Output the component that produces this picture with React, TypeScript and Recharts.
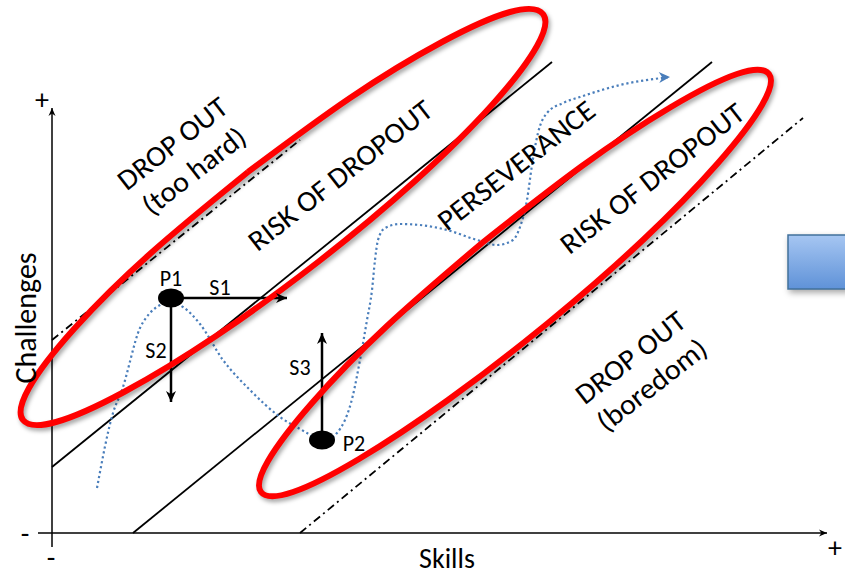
import React from "react";
import { ComposedChart, Line, ReferenceArea, Scatter, XAxis, YAxis } from "recharts";

// coordinates: skills (x) and challenges (y), origin where the two axes cross
const skillsAxis = [
  { x: -14, y: 0 },
  { x: 775, y: 0 },
];
const challengesAxis = [
  { x: 0, y: -14 },
  { x: 0, y: 425 },
];

const upperSolid = [
  { x: 0, y: 66 },
  { x: 500, y: 471 },
];
const lowerSolid = [
  { x: 81, y: 0 },
  { x: 660, y: 471 },
];
const upperDashDot = [
  { x: 0, y: 193 },
  { x: 248, y: 393 },
];
const lowerDashDot = [
  { x: 248, y: 0 },
  { x: 751, y: 415 },
];

const riskTooHard = [
  { x: 196, y: 361 }, { x: 99, y: 280 }, { x: 22, y: 204 }, { x: -23, y: 145 },
  { x: -29, y: 113 }, { x: 4, y: 111 }, { x: 72, y: 141 }, { x: 164, y: 197 },
  { x: 266, y: 271 }, { x: 363, y: 352 }, { x: 440, y: 428 }, { x: 485, y: 487 },
  { x: 491, y: 519 }, { x: 458, y: 521 }, { x: 390, y: 491 }, { x: 298, y: 435 },
  { x: 196, y: 361 },
];
const riskBoredom = [
  { x: 430, y: 290 }, { x: 335, y: 207 }, { x: 260, y: 130 }, { x: 216, y: 72 },
  { x: 209, y: 41 }, { x: 241, y: 41 }, { x: 307, y: 74 }, { x: 396, y: 133 },
  { x: 496, y: 210 }, { x: 591, y: 293 }, { x: 666, y: 370 }, { x: 710, y: 428 },
  { x: 717, y: 459 }, { x: 685, y: 459 }, { x: 619, y: 426 }, { x: 530, y: 367 },
  { x: 430, y: 290 },
];

const learnerPath = [
  { x: 45, y: 45 }, { x: 61, y: 120 }, { x: 70, y: 143 }, { x: 88, y: 205 },
  { x: 98, y: 220 }, { x: 108, y: 228 }, { x: 119, y: 231 }, { x: 131, y: 226 },
  { x: 148, y: 209 }, { x: 171, y: 173 }, { x: 198, y: 143 }, { x: 228, y: 116 },
  { x: 255, y: 100 }, { x: 270, y: 91 }, { x: 285, y: 100 }, { x: 301, y: 138 },
  { x: 308, y: 173 }, { x: 315, y: 213 }, { x: 320, y: 243 }, { x: 323, y: 273 },
  { x: 326, y: 293 }, { x: 333, y: 305 }, { x: 348, y: 309 }, { x: 368, y: 308 },
  { x: 395, y: 303 }, { x: 425, y: 293 }, { x: 445, y: 288 }, { x: 461, y: 293 },
  { x: 468, y: 306 }, { x: 475, y: 333 }, { x: 480, y: 368 }, { x: 486, y: 400 },
  { x: 495, y: 420 }, { x: 511, y: 430 }, { x: 528, y: 436 }, { x: 568, y: 448 },
  { x: 618, y: 456 },
];

const p1 = [{ x: 119, y: 235 }];
const p2 = [{ x: 270, y: 93 }];
const s1 = [
  { x: 119, y: 235 },
  { x: 235, y: 235 },
];
const s2 = [
  { x: 119, y: 235 },
  { x: 119, y: 131 },
];
const s3 = [
  { x: 270, y: 93 },
  { x: 270, y: 200 },
];

const regionLabels = [
  { x: 131, y: 376, lines: ["DROP OUT", "(too hard)"] },
  { x: 288, y: 358, lines: ["RISK OF DROPOUT"] },
  { x: 464, y: 368, lines: ["PERSEVERANCE"] },
  { x: 600, y: 355, lines: ["RISK OF DROPOUT"] },
  { x: 589, y: 162, lines: ["DROP OUT", "(boredom)"] },
];
const pointLabels = [
  { x: 119, y: 255, text: "P1" },
  { x: 168, y: 246, text: "S1" },
  { x: 104, y: 183, text: "S2" },
  { x: 248, y: 166, text: "S3" },
  { x: 302, y: 90, text: "P2" },
];
const axisSigns = [
  { x: -10, y: 434, text: "+" },
  { x: 783, y: -14, text: "+" },
  { x: -27, y: 0, text: "-" },
  { x: -1, y: -24, text: "-" },
];
const skillsTitle = [{ x: 395, y: -25, text: "Skills" }];
const challengesTitle = [{ x: -27, y: 215, text: "Challenges" }];

const FONT = "Carlito, Lato, 'Open Sans', sans-serif";
const BLUE = "#4a7ebb";
const RED = "#ff0000";
const TEXT_WIDTH: Record<string, number> = {
  "RISK OF DROPOUT": 225,
  PERSEVERANCE: 191,
  "DROP OUT": 131,
  "(too hard)": 123,
  "(boredom)": 131,
};

function arrowDot(lastIndex: number, angle: number, len: number, half: number, color = "#000") {
  return (props: any) => {
    const { cx, cy, index } = props;
    if (index !== lastIndex || cx == null) return <g key={`n-${index}`} />;
    return (
      <path
        key={`a-${index}`}
        d={`M0,0 L${-len},${-half} L${-len * 0.7},0 L${-len},${half} Z`}
        transform={`translate(${cx},${cy}) rotate(${angle})`}
        fill={color}
      />
    );
  };
}

function pointDot(props: any) {
  const { cx, cy, index } = props;
  return <ellipse key={`p-${index}`} cx={cx} cy={cy} rx={13} ry={9.5} fill="#000" />;
}

function RegionText(props: any) {
  const { cx, cy, payload } = props;
  const lines: string[] = payload.lines;
  return (
    <g transform={`translate(${cx},${cy}) rotate(-38)`}>
      {lines.map((t, i) => (
        <text
          key={t}
          x={0}
          y={(i - (lines.length - 1) / 2) * 35}
          textAnchor="middle"
          dominantBaseline="central"
          fontSize={29}
          fontFamily={FONT}
          fill="#000"
          textLength={TEXT_WIDTH[t]}
          lengthAdjust="spacingAndGlyphs"
        >
          {t}
        </text>
      ))}
    </g>
  );
}

const plainText = (size: number, rotate = 0) => (props: any) => {
  const { cx, cy, payload } = props;
  return (
    <text
      x={cx}
      y={cy}
      transform={rotate ? `rotate(${rotate},${cx},${cy})` : undefined}
      textAnchor="middle"
      dominantBaseline="central"
      fontSize={size}
      fontFamily={FONT}
      fill="#000"
    >
      {payload.text}
    </text>
  );
};

const common = { dataKey: "y", dot: false, activeDot: false, isAnimationActive: false, legendType: "none" as const };

export default function App() {
  return (
    <div style={{ position: "absolute", left: 0, top: 0, width: 845, height: 575, background: "#fff" }}>
      <style>{`.ring path { filter: drop-shadow(2px 3px 2px rgba(0,0,0,0.35)); } .box path, .box rect { filter: drop-shadow(2px 3px 3px rgba(0,0,0,0.35)); }`}</style>
      <svg width={0} height={0} style={{ position: "absolute" }}>
        <defs>
          <linearGradient id="boxFill" x1="0" y1="0" x2="0" y2="1">
            <stop offset="0" stopColor="#a6c6f2" />
            <stop offset="1" stopColor="#5f92d8" />
          </linearGradient>
        </defs>
      </svg>
      <ComposedChart width={845} height={575} margin={{ top: 0, right: 0, bottom: 0, left: 0 }}>
        <XAxis type="number" dataKey="x" domain={[-52, 793]} allowDataOverflow hide />
        <YAxis type="number" dataKey="y" domain={[-42, 533]} allowDataOverflow hide />
        <ReferenceArea
          x1={736}
          x2={810}
          y1={244}
          y2={298}
          ifOverflow="visible"
          fill="url(#boxFill)"
          fillOpacity={1}
          stroke="#41719c"
          strokeWidth={1.5}
          className="box"
        />
        <Line {...common} data={skillsAxis} type="linear" stroke="#000" strokeWidth={1.5} dot={arrowDot(1, 0, 8, 3.5)} />
        <Line {...common} data={challengesAxis} type="linear" stroke="#000" strokeWidth={1.5} dot={arrowDot(1, -90, 8, 3.5)} />
        <Line {...common} data={upperSolid} type="linear" stroke="#000" strokeWidth={1.8} />
        <Line {...common} data={lowerSolid} type="linear" stroke="#000" strokeWidth={1.8} />
        <Line {...common} data={upperDashDot} type="linear" stroke="#000" strokeWidth={1.8} strokeDasharray="8 4 2 4" />
        <Line {...common} data={lowerDashDot} type="linear" stroke="#000" strokeWidth={1.8} strokeDasharray="8 4 2 4" />
        <Line {...common} data={s1} type="linear" stroke="#000" strokeWidth={2.5} dot={arrowDot(1, 0, 11, 5)} />
        <Line {...common} data={s2} type="linear" stroke="#000" strokeWidth={2.5} dot={arrowDot(1, 90, 11, 5)} />
        <Line {...common} data={s3} type="linear" stroke="#000" strokeWidth={2.5} dot={arrowDot(1, -90, 11, 5)} />
        <Line {...common} data={p1} type="linear" stroke="none" dot={pointDot} />
        <Line {...common} data={p2} type="linear" stroke="none" dot={pointDot} />
        <Line
          {...common}
          data={learnerPath}
          type="monotone"
          stroke={BLUE}
          strokeWidth={2.2}
          strokeDasharray="2.2 2.8"
          dot={arrowDot(learnerPath.length - 1, -3, 11, 5.5, BLUE)}
        />
        <Line {...common} data={riskTooHard} type="natural" stroke={RED} strokeWidth={6} className="ring" />
        <Line {...common} data={riskBoredom} type="natural" stroke={RED} strokeWidth={6} className="ring" />
        <Scatter data={regionLabels} shape={RegionText} isAnimationActive={false} legendType="none" />
        <Scatter data={pointLabels} shape={plainText(22)} isAnimationActive={false} legendType="none" />
        <Scatter data={axisSigns} shape={plainText(28)} isAnimationActive={false} legendType="none" />
        <Scatter data={skillsTitle} shape={plainText(28)} isAnimationActive={false} legendType="none" />
        <Scatter data={challengesTitle} shape={plainText(30, -90)} isAnimationActive={false} legendType="none" />
      </ComposedChart>
    </div>
  );
}
